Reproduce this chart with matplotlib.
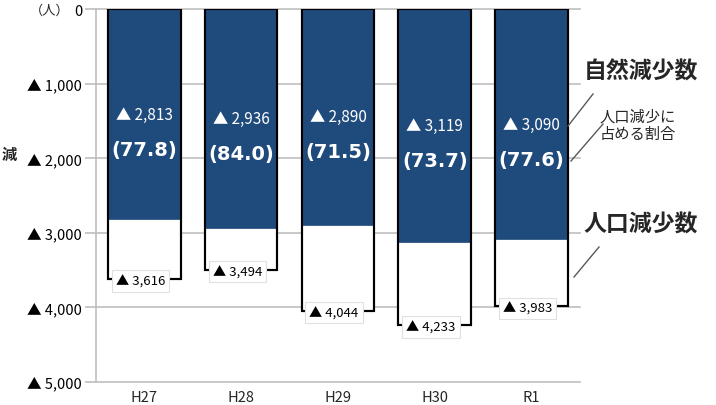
import numpy as np
import matplotlib
matplotlib.use("Agg")
import matplotlib.pyplot as plt

plt.rcParams["font.family"] = ["Noto Sans CJK JP", "DejaVu Sans"]

# data
years = ["H27", "H28", "H29", "H30", "R1"]
natural_decrease = [2813, 2936, 2890, 3119, 3090]
population_decrease = [3616, 3494, 4044, 4233, 3983]
natural_share = [77.8, 84.0, 71.5, 73.7, 77.6]
y_ticks = [0, 1000, 2000, 3000, 4000, 5000]

navy = "#1F4A7C"
grid_gray = "#BFBFBF"
text_dark = "#262626"
pct_font = ["DejaVu Sans"]

fig = plt.figure(figsize=(7.16, 4.06), dpi=100)
ax = fig.add_axes([0.134, 0.057, 0.676, 0.918])

x = np.arange(len(years))
width = 0.75

neg_pop = [-v for v in population_decrease]
neg_nat = [-v for v in natural_decrease]

# white bar (population decrease) with black outline
ax.bar(x, neg_pop, width=width, color="white", edgecolor="black",
       linewidth=1.5, zorder=2)
# navy bar (natural decrease)
ax.bar(x, neg_nat, width=width, color=navy, edgecolor=navy,
       linewidth=0.5, zorder=3)
# redraw side outlines over navy
ax.bar(x, neg_pop, width=width, color="none", edgecolor="black",
       linewidth=1.5, zorder=4)

for i in range(len(years)):
    ax.text(x[i], -natural_decrease[i] / 2, "▲ {:,}".format(natural_decrease[i]),
            ha="center", va="center", color="white", fontsize=11,
            zorder=5)
    ax.text(x[i], -natural_decrease[i] / 2 - 470, "({:.1f})".format(natural_share[i]),
            ha="center", va="center", color="white", fontsize=14,
            fontweight="bold", family=pct_font, zorder=5)
    ax.text(x[i] - 0.04, -population_decrease[i] - 30,
            "▲ {:,}".format(population_decrease[i]),
            ha="center", va="center", color="black", fontsize=9.5,
            zorder=6,
            bbox=dict(boxstyle="square,pad=0.3", facecolor="white",
                      edgecolor="#E0E0E0", linewidth=0.8))

ax.set_xlim(-0.5, len(years) - 0.5)
ax.set_ylim(-5000, 0)
ax.set_yticks([-t for t in y_ticks])
ax.set_yticklabels(["0"] + ["▲ {:,}".format(t) for t in y_ticks[1:]],
                   fontsize=10.5, color="black")
ax.set_xticks(x)
ax.set_xticklabels(years, fontsize=10.5, color=text_dark)

ax.yaxis.grid(True, color=grid_gray, linewidth=1.2, zorder=0)
for gl in ax.get_ygridlines():
    gl.set_clip_on(False)
ax.set_axisbelow(True)
for side in ["top", "right", "bottom"]:
    ax.spines[side].set_visible(False)
ax.spines["left"].set_color(grid_gray)
ax.spines["left"].set_linewidth(1.2)
ax.tick_params(axis="y", length=8, color=grid_gray, width=1.2, pad=2)
ax.tick_params(axis="x", length=0, pad=6)

# unit and side label
fig.text(0.042, 0.972, "（人）", fontsize=9.5, color=text_dark,
         ha="left", va="center")
fig.text(0.002, 0.618, "減", fontsize=11, color=text_dark,
         fontweight="bold", ha="left", va="center")

# right side legend annotations
fig.text(0.815, 0.822, "自然減少数", fontsize=16.5, fontweight="bold",
         color=text_dark, ha="left", va="center")
fig.text(0.837, 0.69, "人口減少に\n占める割合", fontsize=11,
         color=text_dark, ha="left", va="center", linespacing=1.05)
fig.text(0.815, 0.445, "人口減少数", fontsize=16.5, fontweight="bold",
         color=text_dark, ha="left", va="center")

for (x0, y0, x1, y1) in [(568, 127, 593, 95), (571, 162, 603, 125),
                         (574, 278, 599, 248)]:
    fig.add_artist(plt.Line2D([x0 / 716, x1 / 716],
                              [1 - y0 / 406, 1 - y1 / 406],
                              color="#595959", linewidth=1.0))

fig.savefig("out.png", dpi=100)
